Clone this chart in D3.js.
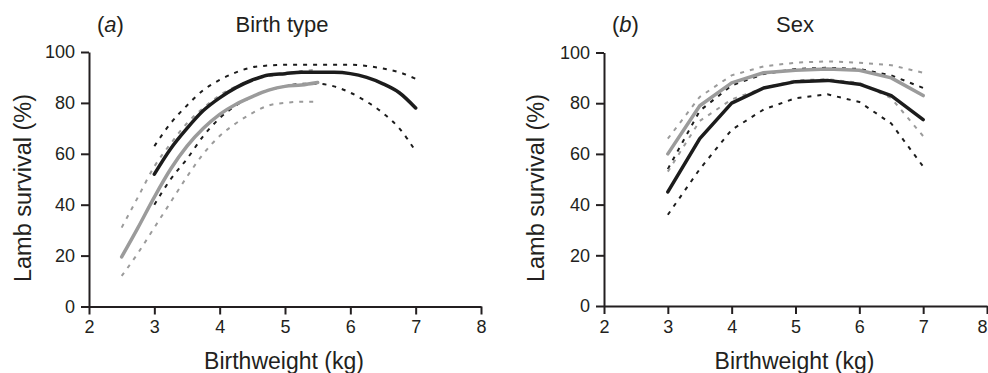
<!DOCTYPE html>
<html>
<head>
<meta charset="utf-8">
<script src="https://cdn.jsdelivr.net/npm/d3@7"></script>
<style>
body { margin: 0; background: #fff; }
svg { display: block; font-family: "Liberation Sans", Arial, sans-serif; }
</style>
</head>
<body>
<div id="chart-area"></div>
<script>
// panel (a) birth type: black = singles, grey = twins
var bwSingle = [3.0, 3.25, 3.5, 3.75, 4.0, 4.25, 4.5, 4.75, 5.0, 5.25, 5.5, 5.75, 6.0, 6.25, 6.5, 6.75, 7.0];
var singleMean = [52, 62, 70, 77, 82, 86, 89, 91, 91.5, 92, 92, 92, 91.5, 90, 87.5, 84, 78];
var singleUpper = [63, 72, 79, 85, 89, 92, 94, 94.7, 95, 95, 95, 95, 95, 94.5, 93.5, 92, 89.5];
var singleLower = [40, 50, 58, 67, 74, 79, 82.5, 85, 86.5, 87.5, 87.5, 86.5, 84, 80.5, 76, 70, 61];

var bwTwin = [2.5, 2.75, 3.0, 3.25, 3.5, 3.75, 4.0, 4.25, 4.5, 4.75, 5.0, 5.25, 5.5];
var twinMean = [19.5, 31, 43, 54, 63, 70, 75.5, 79.5, 82.5, 85, 86.5, 87, 88];
var twinUpper = [31, 43, 55, 64, 72, 78, 83, 86.5, 89, 90.5, 91.5, 92.5, 93];
var twinLower = [12, 21, 31, 41, 51, 60, 67, 72, 76, 79, 80, 80.5, 80.5];

// panel (b) sex: grey = female, black = male
var bwSex = [3.0, 3.5, 4.0, 4.5, 5.0, 5.5, 6.0, 6.5, 7.0];
var femaleMean = [60, 79, 88, 92, 93, 93.5, 93, 90, 83];
var femaleUpper = [66, 82.5, 91, 94.5, 96, 96.5, 96, 95, 92];
var femaleLower = [53, 73, 81.5, 86, 89, 89.5, 88, 82, 67];
var maleMean = [45, 66, 80, 86, 88.5, 89, 87.5, 83, 73.5];
var maleUpper = [54, 77, 87, 91.5, 93.5, 94, 93.5, 91, 86];
var maleLower = [36, 54, 69.5, 77.5, 82, 83.5, 80.5, 72, 55];

var xTicks = [2, 3, 4, 5, 6, 7, 8];
var yTicks = [0, 20, 40, 60, 80, 100];

var black = "#1c1c1c";
var grey = "#9b9b9b";
var ink = "#231f20";

var svg = d3.select("#chart-area").append("svg")
    .attr("width", 988)
    .attr("height", 373);

function zip(xs, ys) {
    return xs.map((x, i) => ({x: x, y: ys[i]}));
}

function drawPanel(opts) {
    var x = d3.scaleLinear().domain([2, 8]).range([opts.left, opts.right]);
    var y = d3.scaleLinear().domain([0, 100]).range([opts.bottom, opts.top]);
    var g = svg.append("g");

    var line = d3.line()
        .x((d) => x(d.x))
        .y((d) => y(d.y))
        .curve(opts.curve);

    // bands first, then the means on top
    opts.series.forEach((s) => {
        [s.upper, s.lower].forEach((band) => {
            g.append("path")
                .datum(zip(s.bw, band))
                .attr("d", line)
                .attr("fill", "none")
                .attr("stroke", s.color)
                .attr("stroke-width", 2)
                .attr("stroke-dasharray", "4,6");
        });
    });
    opts.series.forEach((s) => {
        g.append("path")
            .datum(zip(s.bw, s.mean))
            .attr("d", line)
            .attr("fill", "none")
            .attr("stroke", s.color)
            .attr("stroke-width", 3.5)
            .attr("stroke-linejoin", "round")
            .attr("stroke-linecap", "round");
    });

    var xAxis = g.append("g")
        .attr("transform", "translate(0," + opts.bottom + ")")
        .call(d3.axisBottom(x).tickValues(xTicks).tickFormat(d3.format("d"))
            .tickSize(8).tickSizeOuter(0).tickPadding(6));
    var yAxis = g.append("g")
        .attr("transform", "translate(" + opts.left + ",0)")
        .call(d3.axisLeft(y).tickValues(yTicks).tickFormat(d3.format("d"))
            .tickSize(8).tickSizeOuter(0).tickPadding(6));
    [xAxis, yAxis].forEach((a) => {
        a.select(".domain").attr("stroke", ink).attr("stroke-width", 2);
        a.selectAll(".tick line").attr("stroke", ink).attr("stroke-width", 2);
        a.selectAll(".tick text")
            .attr("fill", ink)
            .attr("font-size", "18px")
            .attr("font-family", "Liberation Sans, Arial, sans-serif");
    });
    // keep the last x label inside the window
    xAxis.selectAll(".tick text")
        .filter((d) => x(d) > 980)
        .attr("dx", -5);

    g.append("text")
        .attr("x", opts.letterX)
        .attr("y", 32)
        .attr("font-size", "22px")
        .attr("fill", ink)
        .html("(<tspan font-style='italic'>" + opts.letter + "</tspan>)");
    g.append("text")
        .attr("x", opts.titleX)
        .attr("y", 32)
        .attr("text-anchor", "middle")
        .attr("font-size", "22px")
        .attr("fill", ink)
        .text(opts.title);
    g.append("text")
        .attr("x", (opts.left + opts.right) / 2 - 1)
        .attr("y", 369)
        .attr("text-anchor", "middle")
        .attr("font-size", "23px")
        .attr("fill", ink)
        .text("Birthweight (kg)");
    g.append("text")
        .attr("transform", "translate(" + opts.yLabelX + ",188) rotate(-90)")
        .attr("text-anchor", "middle")
        .attr("font-size", "23.5px")
        .attr("fill", ink)
        .text("Lamb survival (%)");
}

drawPanel({
    left: 89, right: 481, top: 52, bottom: 306.5,
    letter: "a", letterX: 97, title: "Birth type", titleX: 282, yLabelX: 31,
    curve: d3.curveMonotoneX,
    series: [
        {bw: bwTwin, mean: twinMean, upper: twinUpper, lower: twinLower, color: grey},
        {bw: bwSingle, mean: singleMean, upper: singleUpper, lower: singleLower, color: black}
    ]
});

drawPanel({
    left: 604, right: 987, top: 52.5, bottom: 306,
    letter: "b", letterX: 612, title: "Sex", titleX: 795, yLabelX: 544,
    curve: d3.curveLinear,
    series: [
        {bw: bwSex, mean: maleMean, upper: maleUpper, lower: maleLower, color: black},
        {bw: bwSex, mean: femaleMean, upper: femaleUpper, lower: femaleLower, color: grey}
    ]
});
</script>
</body>
</html>
